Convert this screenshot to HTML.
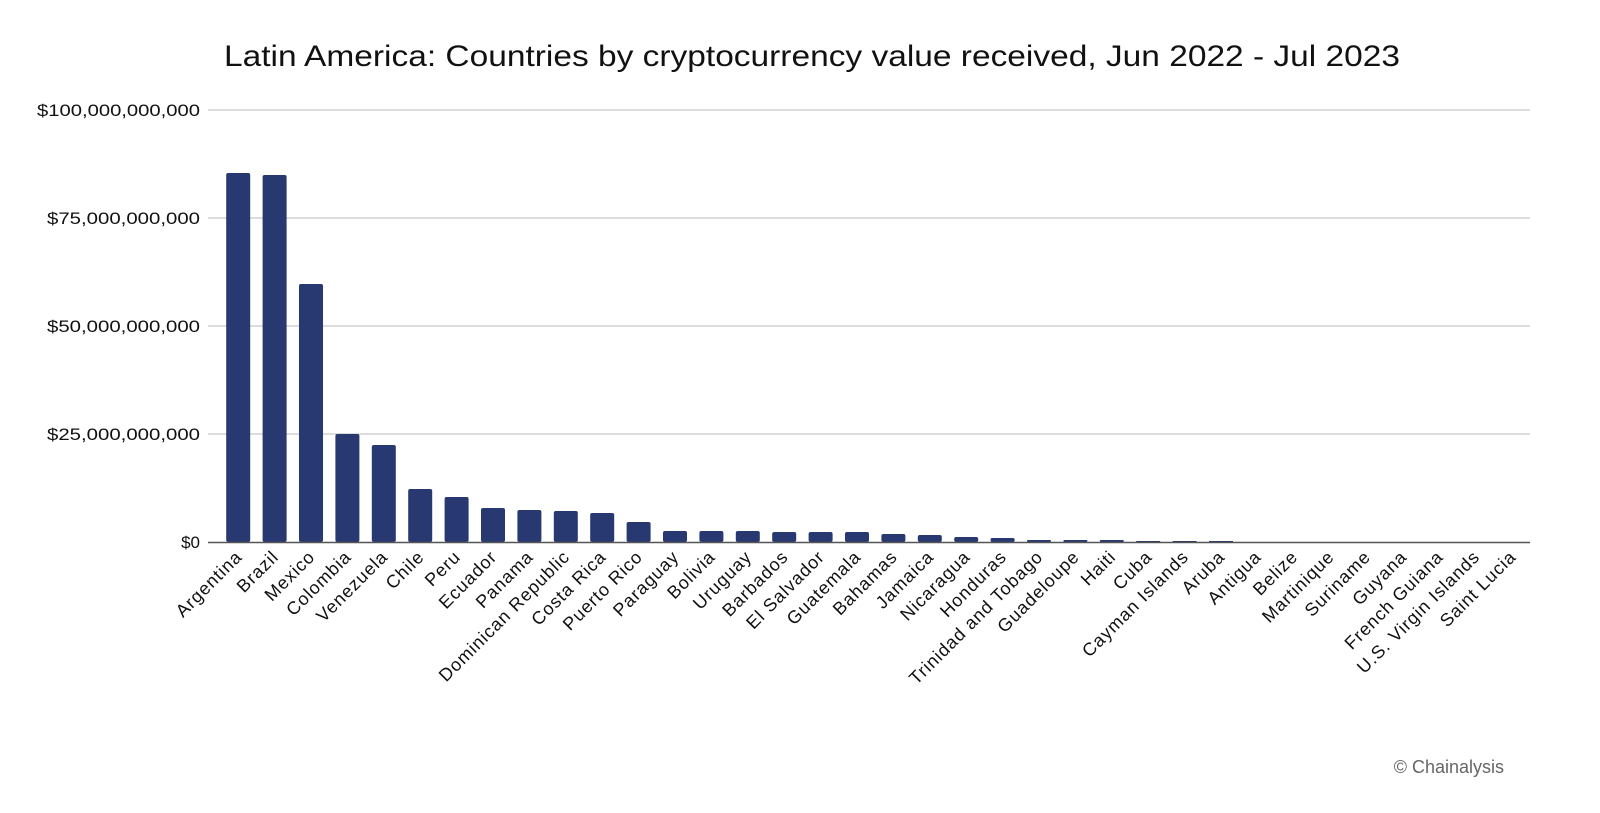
<!DOCTYPE html>
<html><head><meta charset="utf-8"><style>
html,body{margin:0;padding:0;background:#fff;}
svg{display:block;font-family:"Liberation Sans",sans-serif;}
</style></head><body>
<svg width="1600" height="813" viewBox="0 0 1600 813" xmlns="http://www.w3.org/2000/svg">
<text x="224" y="66" textLength="1176" lengthAdjust="spacingAndGlyphs" font-size="30" fill="#111">Latin America: Countries by cryptocurrency value received, Jun 2022 - Jul 2023</text>
<g stroke="#d0d0d0" stroke-width="1.5">
<line x1="208" y1="110" x2="1530" y2="110"/>
<line x1="208" y1="218" x2="1530" y2="218"/>
<line x1="208" y1="326" x2="1530" y2="326"/>
<line x1="208" y1="434" x2="1530" y2="434"/>
</g>
<g font-size="17" fill="#111" text-anchor="end">
<text x="200" y="116" textLength="163" lengthAdjust="spacingAndGlyphs">$100,000,000,000</text>
<text x="200" y="224" textLength="153" lengthAdjust="spacingAndGlyphs">$75,000,000,000</text>
<text x="200" y="332" textLength="153" lengthAdjust="spacingAndGlyphs">$50,000,000,000</text>
<text x="200" y="440" textLength="153" lengthAdjust="spacingAndGlyphs">$25,000,000,000</text>
<text x="200" y="548">$0</text>
</g>
<g fill="#283870">
<rect x="226.2" y="173" width="24" height="369" rx="2"/>
<rect x="262.6" y="175" width="24" height="367" rx="2"/>
<rect x="299" y="284" width="24" height="258" rx="2"/>
<rect x="335.4" y="434" width="24" height="108" rx="2"/>
<rect x="371.8" y="445" width="24" height="97" rx="2"/>
<rect x="408.2" y="489" width="24" height="53" rx="2"/>
<rect x="444.6" y="497" width="24" height="45" rx="2"/>
<rect x="481" y="508" width="24" height="34" rx="2"/>
<rect x="517.4" y="510" width="24" height="32" rx="2"/>
<rect x="553.8" y="511" width="24" height="31" rx="2"/>
<rect x="590.2" y="513" width="24" height="29" rx="2"/>
<rect x="626.6" y="522" width="24" height="20" rx="2"/>
<rect x="663" y="531" width="24" height="11" rx="2"/>
<rect x="699.4" y="531" width="24" height="11" rx="2"/>
<rect x="735.8" y="531" width="24" height="11" rx="2"/>
<rect x="772.2" y="532" width="24" height="10" rx="2"/>
<rect x="808.6" y="532" width="24" height="10" rx="2"/>
<rect x="845" y="532" width="24" height="10" rx="2"/>
<rect x="881.4" y="534" width="24" height="8" rx="2"/>
<rect x="917.8" y="535" width="24" height="7" rx="2"/>
<rect x="954.2" y="537" width="24" height="5" rx="2"/>
<rect x="990.6" y="538" width="24" height="4" rx="1.5"/>
<rect x="1027" y="540" width="24" height="2" rx="1"/>
<rect x="1063.4" y="540" width="24" height="2" rx="1"/>
<rect x="1099.8" y="540" width="24" height="2" rx="1"/>
<rect x="1136.2" y="541" width="24" height="1"/>
<rect x="1172.6" y="541" width="24" height="1"/>
<rect x="1209" y="541" width="24" height="1"/>
</g>
<line x1="208" y1="542.5" x2="1530" y2="542.5" stroke="#555" stroke-width="1.5"/>
<g font-size="18" fill="#111" text-anchor="end" letter-spacing="0.9">
<text transform="translate(243.2,558) rotate(-45)">Argentina</text>
<text transform="translate(279.6,558) rotate(-45)">Brazil</text>
<text transform="translate(316,558) rotate(-45)">Mexico</text>
<text transform="translate(352.4,558) rotate(-45)">Colombia</text>
<text transform="translate(388.8,558) rotate(-45)">Venezuela</text>
<text transform="translate(425.2,558) rotate(-45)">Chile</text>
<text transform="translate(461.6,558) rotate(-45)">Peru</text>
<text transform="translate(498,558) rotate(-45)">Ecuador</text>
<text transform="translate(534.4,558) rotate(-45)">Panama</text>
<text transform="translate(570.8,558) rotate(-45)">Dominican Republic</text>
<text transform="translate(607.2,558) rotate(-45)">Costa Rica</text>
<text transform="translate(643.6,558) rotate(-45)">Puerto Rico</text>
<text transform="translate(680,558) rotate(-45)">Paraguay</text>
<text transform="translate(716.4,558) rotate(-45)">Bolivia</text>
<text transform="translate(752.8,558) rotate(-45)">Uruguay</text>
<text transform="translate(789.2,558) rotate(-45)">Barbados</text>
<text transform="translate(825.6,558) rotate(-45)">El Salvador</text>
<text transform="translate(862,558) rotate(-45)">Guatemala</text>
<text transform="translate(898.4,558) rotate(-45)">Bahamas</text>
<text transform="translate(934.8,558) rotate(-45)">Jamaica</text>
<text transform="translate(971.2,558) rotate(-45)">Nicaragua</text>
<text transform="translate(1007.6,558) rotate(-45)">Honduras</text>
<text transform="translate(1044,558) rotate(-45)">Trinidad and Tobago</text>
<text transform="translate(1080.4,558) rotate(-45)">Guadeloupe</text>
<text transform="translate(1116.8,558) rotate(-45)">Haiti</text>
<text transform="translate(1153.2,558) rotate(-45)">Cuba</text>
<text transform="translate(1189.6,558) rotate(-45)">Cayman Islands</text>
<text transform="translate(1226,558) rotate(-45)">Aruba</text>
<text transform="translate(1262.4,558) rotate(-45)">Antigua</text>
<text transform="translate(1298.8,558) rotate(-45)">Belize</text>
<text transform="translate(1335.2,558) rotate(-45)">Martinique</text>
<text transform="translate(1371.6,558) rotate(-45)">Suriname</text>
<text transform="translate(1408,558) rotate(-45)">Guyana</text>
<text transform="translate(1444.4,558) rotate(-45)">French Guiana</text>
<text transform="translate(1480.8,558) rotate(-45)">U.S. Virgin Islands</text>
<text transform="translate(1517.2,558) rotate(-45)">Saint Lucia</text>
</g>
<text x="1504" y="773" text-anchor="end" font-size="18" fill="#666">© Chainalysis</text>
</svg>
</body></html>
